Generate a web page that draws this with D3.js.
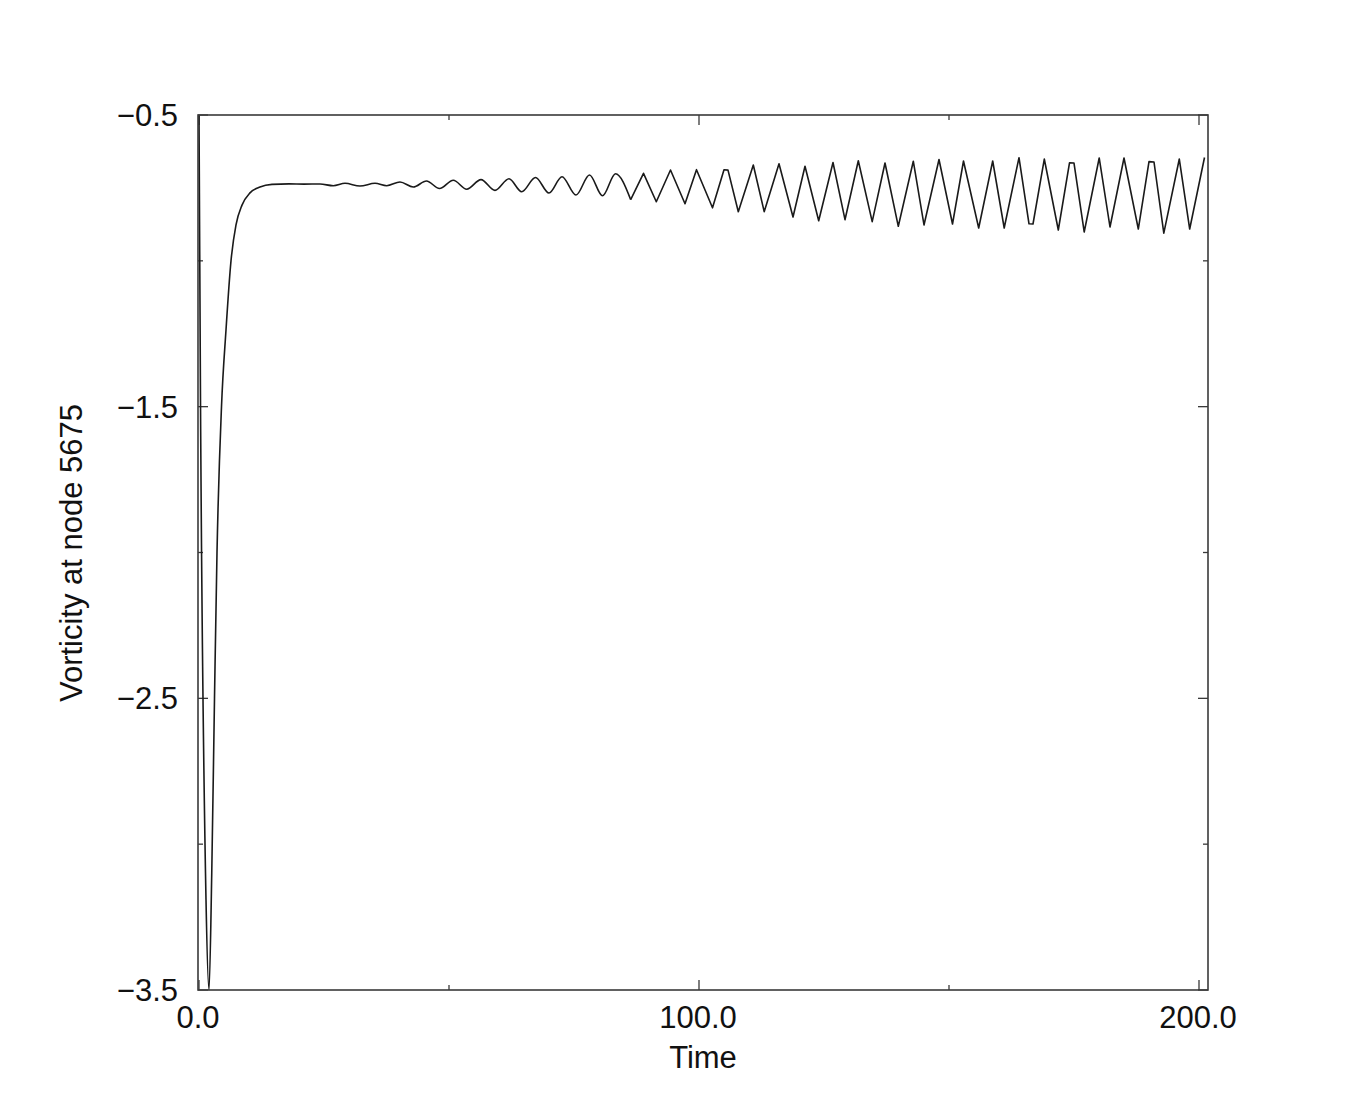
<!DOCTYPE html>
<html>
<head>
<meta charset="utf-8">
<script src="https://cdn.jsdelivr.net/npm/d3@7"></script>
<style>
  html, body { margin: 0; padding: 0; background: #fff; }
  svg { display: block; }
  text { font-family: "Liberation Sans", Arial, Helvetica, sans-serif; fill: #111; }
</style>
</head>
<body>
<svg id="chart" width="1353" height="1117"></svg>
<script>
// ---- Data ----
const time = [
  0.0, 0.3, 1.4, 2.0, 2.55, 3.1, 3.6, 4.5, 5.4, 6.4, 7.4, 8.6, 10.2, 12.2, 14.6, 18.0, 21.0,
  24.2, 26.86, 29.2, 32.2, 35.2, 37.54, 40.2, 42.86, 45.5, 48.1, 50.86, 53.54, 56.4, 59.2,
  62.0, 64.54, 67.3, 70.0, 72.6, 75.4, 78.1, 80.7, 83.3, 86.34, 88.9, 91.46, 94.3, 97.2,
  99.5, 102.7, 105.0, 105.8, 107.86, 110.86, 113.04, 116.0, 118.8, 121.2, 123.94, 126.8,
  129.2, 131.86, 134.64, 137.2, 139.86, 142.86, 145.0, 148.0, 150.7, 152.9, 155.94, 158.74,
  161.04, 164.0, 166.0, 166.8, 169.06, 171.86, 174.1, 175.0, 177.04, 180.04, 182.2, 185.0,
  187.86, 190.0, 191.0, 192.96, 196.06, 198.14, 201.1
];
const vorticity = [
  -0.50, -1.48, -3.19, -3.50, -3.10, -2.50, -2.00, -1.50, -1.237, -1.00, -0.877, -0.809, -0.767, -0.747, -0.738, -0.736, -0.737,
  -0.7366, -0.7424, -0.7342, -0.7434, -0.7342, -0.7424, -0.7297, -0.7469, -0.7263, -0.7520, -0.7239, -0.7544, -0.7215, -0.7585,
  -0.7187, -0.7630, -0.7143, -0.7674, -0.7115, -0.7743, -0.7057, -0.7770, -0.7013, -0.7901, -0.6999, -0.7973, -0.6886, -0.8041,
  -0.6875, -0.8182, -0.6875, -0.6890, -0.8315, -0.6714, -0.8315, -0.6670, -0.8497, -0.6759, -0.8624, -0.6629,
  -0.8590, -0.6567, -0.8658, -0.6646, -0.8816, -0.6584, -0.8771, -0.6526, -0.8737, -0.6577, -0.8874, -0.6577,
  -0.8874, -0.6464, -0.8730, -0.8737, -0.6509, -0.8943, -0.6640, -0.6646, -0.9011, -0.6474, -0.8840, -0.6474,
  -0.8909, -0.6600, -0.6611, -0.9050, -0.6509, -0.8909, -0.6457
];
const xMajorTicks = [0, 100, 200];
const xMinorTicks = [50, 150];
const xTickLabels = ["0.0", "100.0", "200.0"];
const yMajorTicks = [-0.5, -1.5, -2.5, -3.5];
const yMinorTicks = [-1.0, -2.0, -3.0];
const yTickLabels = ["\u22120.5", "\u22121.5", "\u22122.5", "\u22123.5"];
const xTitle = "Time";
const yTitle = "Vorticity at node 5675";

// ---- Layout ----
const svg = d3.select("#chart");
const L = 198, R = 1208, T = 115, B = 990;
const x = d3.scaleLinear().domain([-0.2, 201.8]).range([L, R]);
const y = d3.scaleLinear().domain([-3.5, -0.5]).range([B, T]);

const frameColor = "#3a3a3a";
const g = svg.append("g");

// ticks (inward, on all four sides)
const tickG = g.append("g").attr("stroke", frameColor).attr("stroke-width", 1.3);
function xTick(v, len) {
  tickG.append("line").attr("x1", x(v)).attr("x2", x(v)).attr("y1", B).attr("y2", B - len);
  tickG.append("line").attr("x1", x(v)).attr("x2", x(v)).attr("y1", T).attr("y2", T + len);
}
function yTick(v, len) {
  tickG.append("line").attr("x1", L).attr("x2", L + len).attr("y1", y(v)).attr("y2", y(v));
  tickG.append("line").attr("x1", R).attr("x2", R - len).attr("y1", y(v)).attr("y2", y(v));
}
xMajorTicks.forEach(v => xTick(v, 10));
xMinorTicks.forEach(v => xTick(v, 5));
yMajorTicks.forEach(v => yTick(v, 10));
yMinorTicks.forEach(v => yTick(v, 5));

// data line: smooth where the oscillation is small, straight segments after
const pts = time.map((t, i) => [t, vorticity[i]]);
const splitT = 86.34;
const early = pts.filter(p => p[0] <= splitT);
const late = pts.filter(p => p[0] >= splitT);
const lineSmooth = d3.line().curve(d3.curveMonotoneX).x(d => x(d[0])).y(d => y(d[1]));
const lineStraight = d3.line().x(d => x(d[0])).y(d => y(d[1]));
[[early, lineSmooth], [late, lineStraight]].forEach(([data, gen]) => {
  g.append("path")
    .datum(data)
    .attr("d", gen)
    .attr("fill", "none")
    .attr("stroke", "#1a1a1a")
    .attr("stroke-width", 1.6)
    .attr("stroke-linejoin", "round");
});

// frame
g.append("rect")
  .attr("x", L).attr("y", T).attr("width", R - L).attr("height", B - T)
  .attr("fill", "none").attr("stroke", frameColor).attr("stroke-width", 1.6);

// tick labels
const fs = 31;
xMajorTicks.forEach((v, i) => {
  g.append("text").attr("x", x(v) - 1).attr("y", 1028)
    .attr("text-anchor", "middle").attr("font-size", fs).text(xTickLabels[i]);
});
yMajorTicks.forEach((v, i) => {
  g.append("text").attr("x", 178).attr("y", y(v)).attr("dy", "0.36em")
    .attr("text-anchor", "end").attr("font-size", fs).text(yTickLabels[i]);
});

// axis titles
g.append("text").attr("x", 703).attr("y", 1068)
  .attr("text-anchor", "middle").attr("font-size", fs).text(xTitle);
g.append("text").attr("transform", "translate(82,553) rotate(-90)")
  .attr("text-anchor", "middle").attr("font-size", fs).text(yTitle);
</script>
</body>
</html>
